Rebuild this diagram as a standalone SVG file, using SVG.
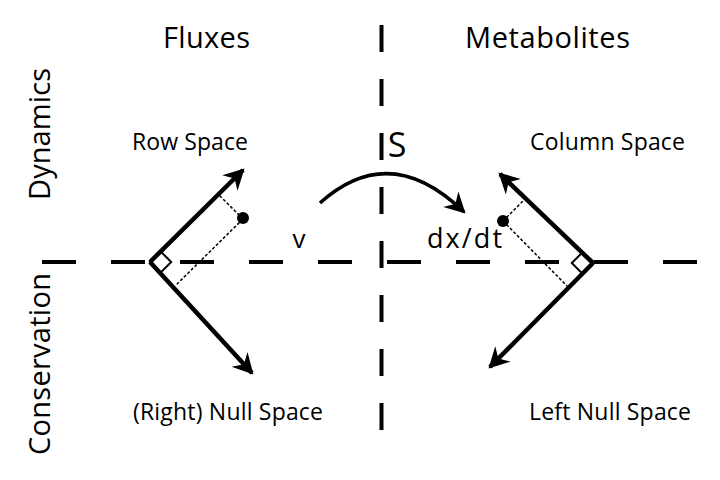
<svg xmlns="http://www.w3.org/2000/svg" width="720" height="480" viewBox="0 0 720 480">
  <style>
    .t { font-family: "Open Sans", "Noto Sans", "DejaVu Sans", sans-serif; fill: #000; text-anchor: middle; }
    .big { font-size: 29px; }
    .lbl { font-size: 23px; }
    .axis { stroke: #000; stroke-width: 4; fill: none; }
    .arm { stroke: #000; stroke-width: 4.5; fill: none; marker-end: url(#ah); }
    .sq { stroke: #000; stroke-width: 2; fill: none; }
    .dot { stroke: #000; stroke-width: 1.5; stroke-dasharray: 3 2; fill: none; }
  </style>
  <defs>
    <marker id="ah" markerUnits="userSpaceOnUse" markerWidth="26" markerHeight="26" viewBox="-22 -11 24 22" refX="0" refY="0" orient="auto">
      <path d="M2,0 L-17,-10 L-11,0 L-17,10 Z" fill="#000"/>
    </marker>
  </defs>
  <rect width="720" height="480" fill="#fff"/>

  <g id="axes">
    <line class="axis" x1="42" y1="262" x2="698" y2="262" stroke-dasharray="34 35"/>
    <line class="axis" x1="381.5" y1="25" x2="381.5" y2="430" stroke-dasharray="27 27"/>
  </g>

  <g id="headers">
    <text class="t big" x="206.5" y="48" textLength="87">Fluxes</text>
    <text class="t big" x="547.5" y="48" textLength="165">Metabolites</text>
    <text class="t big" transform="translate(50,134) rotate(-90)" textLength="132">Dynamics</text>
    <text class="t big" transform="translate(50,364) rotate(-90)" textLength="182">Conservation</text>
  </g>

  <g id="fluxes">
    <text class="t lbl" x="190" y="150" textLength="116">Row Space</text>
    <text class="t lbl" x="228" y="420" textLength="190">(Right) Null Space</text>
    <polygon class="sq" points="150,262 160.6,251.4 171.2,262 160.6,272.6"/>
    <line class="dot" x1="243" y1="219" x2="219" y2="195"/>
    <line class="dot" x1="243" y1="219" x2="176" y2="285"/>
    <circle cx="243" cy="218" r="6" fill="#000"/>
  </g>

  <g id="metabolites">
    <text class="t lbl" x="607.5" y="150" textLength="155">Column Space</text>
    <text class="t lbl" x="610" y="420" textLength="162">Left Null Space</text>
    <polygon class="sq" points="593,263 582.4,252.4 571.8,263 582.4,273.6"/>
    <line class="dot" x1="503" y1="221" x2="523" y2="201"/>
    <line class="dot" x1="503" y1="221" x2="567" y2="286"/>
    <circle cx="503" cy="221" r="6" fill="#000"/>
  </g>

  <g id="stoich">
    <text class="t" x="397" y="157" font-size="34">S</text>
    <text class="t" x="299" y="248" font-size="26">v</text>
    <text class="t" x="464.5" y="248" font-size="27" textLength="75">dx/dt</text>
  </g>

  <g id="connectors">
    <line class="arm" x1="150" y1="262" x2="243" y2="170"/>
    <line class="arm" x1="150" y1="262" x2="252" y2="373"/>
    <line class="arm" x1="593" y1="263" x2="500" y2="174"/>
    <line class="arm" x1="593" y1="263" x2="490" y2="367"/>
    <path d="M320,203 Q390,140 464,212" stroke="#000" stroke-width="3.5" fill="none" marker-end="url(#ah)"/>
  </g>
</svg>
